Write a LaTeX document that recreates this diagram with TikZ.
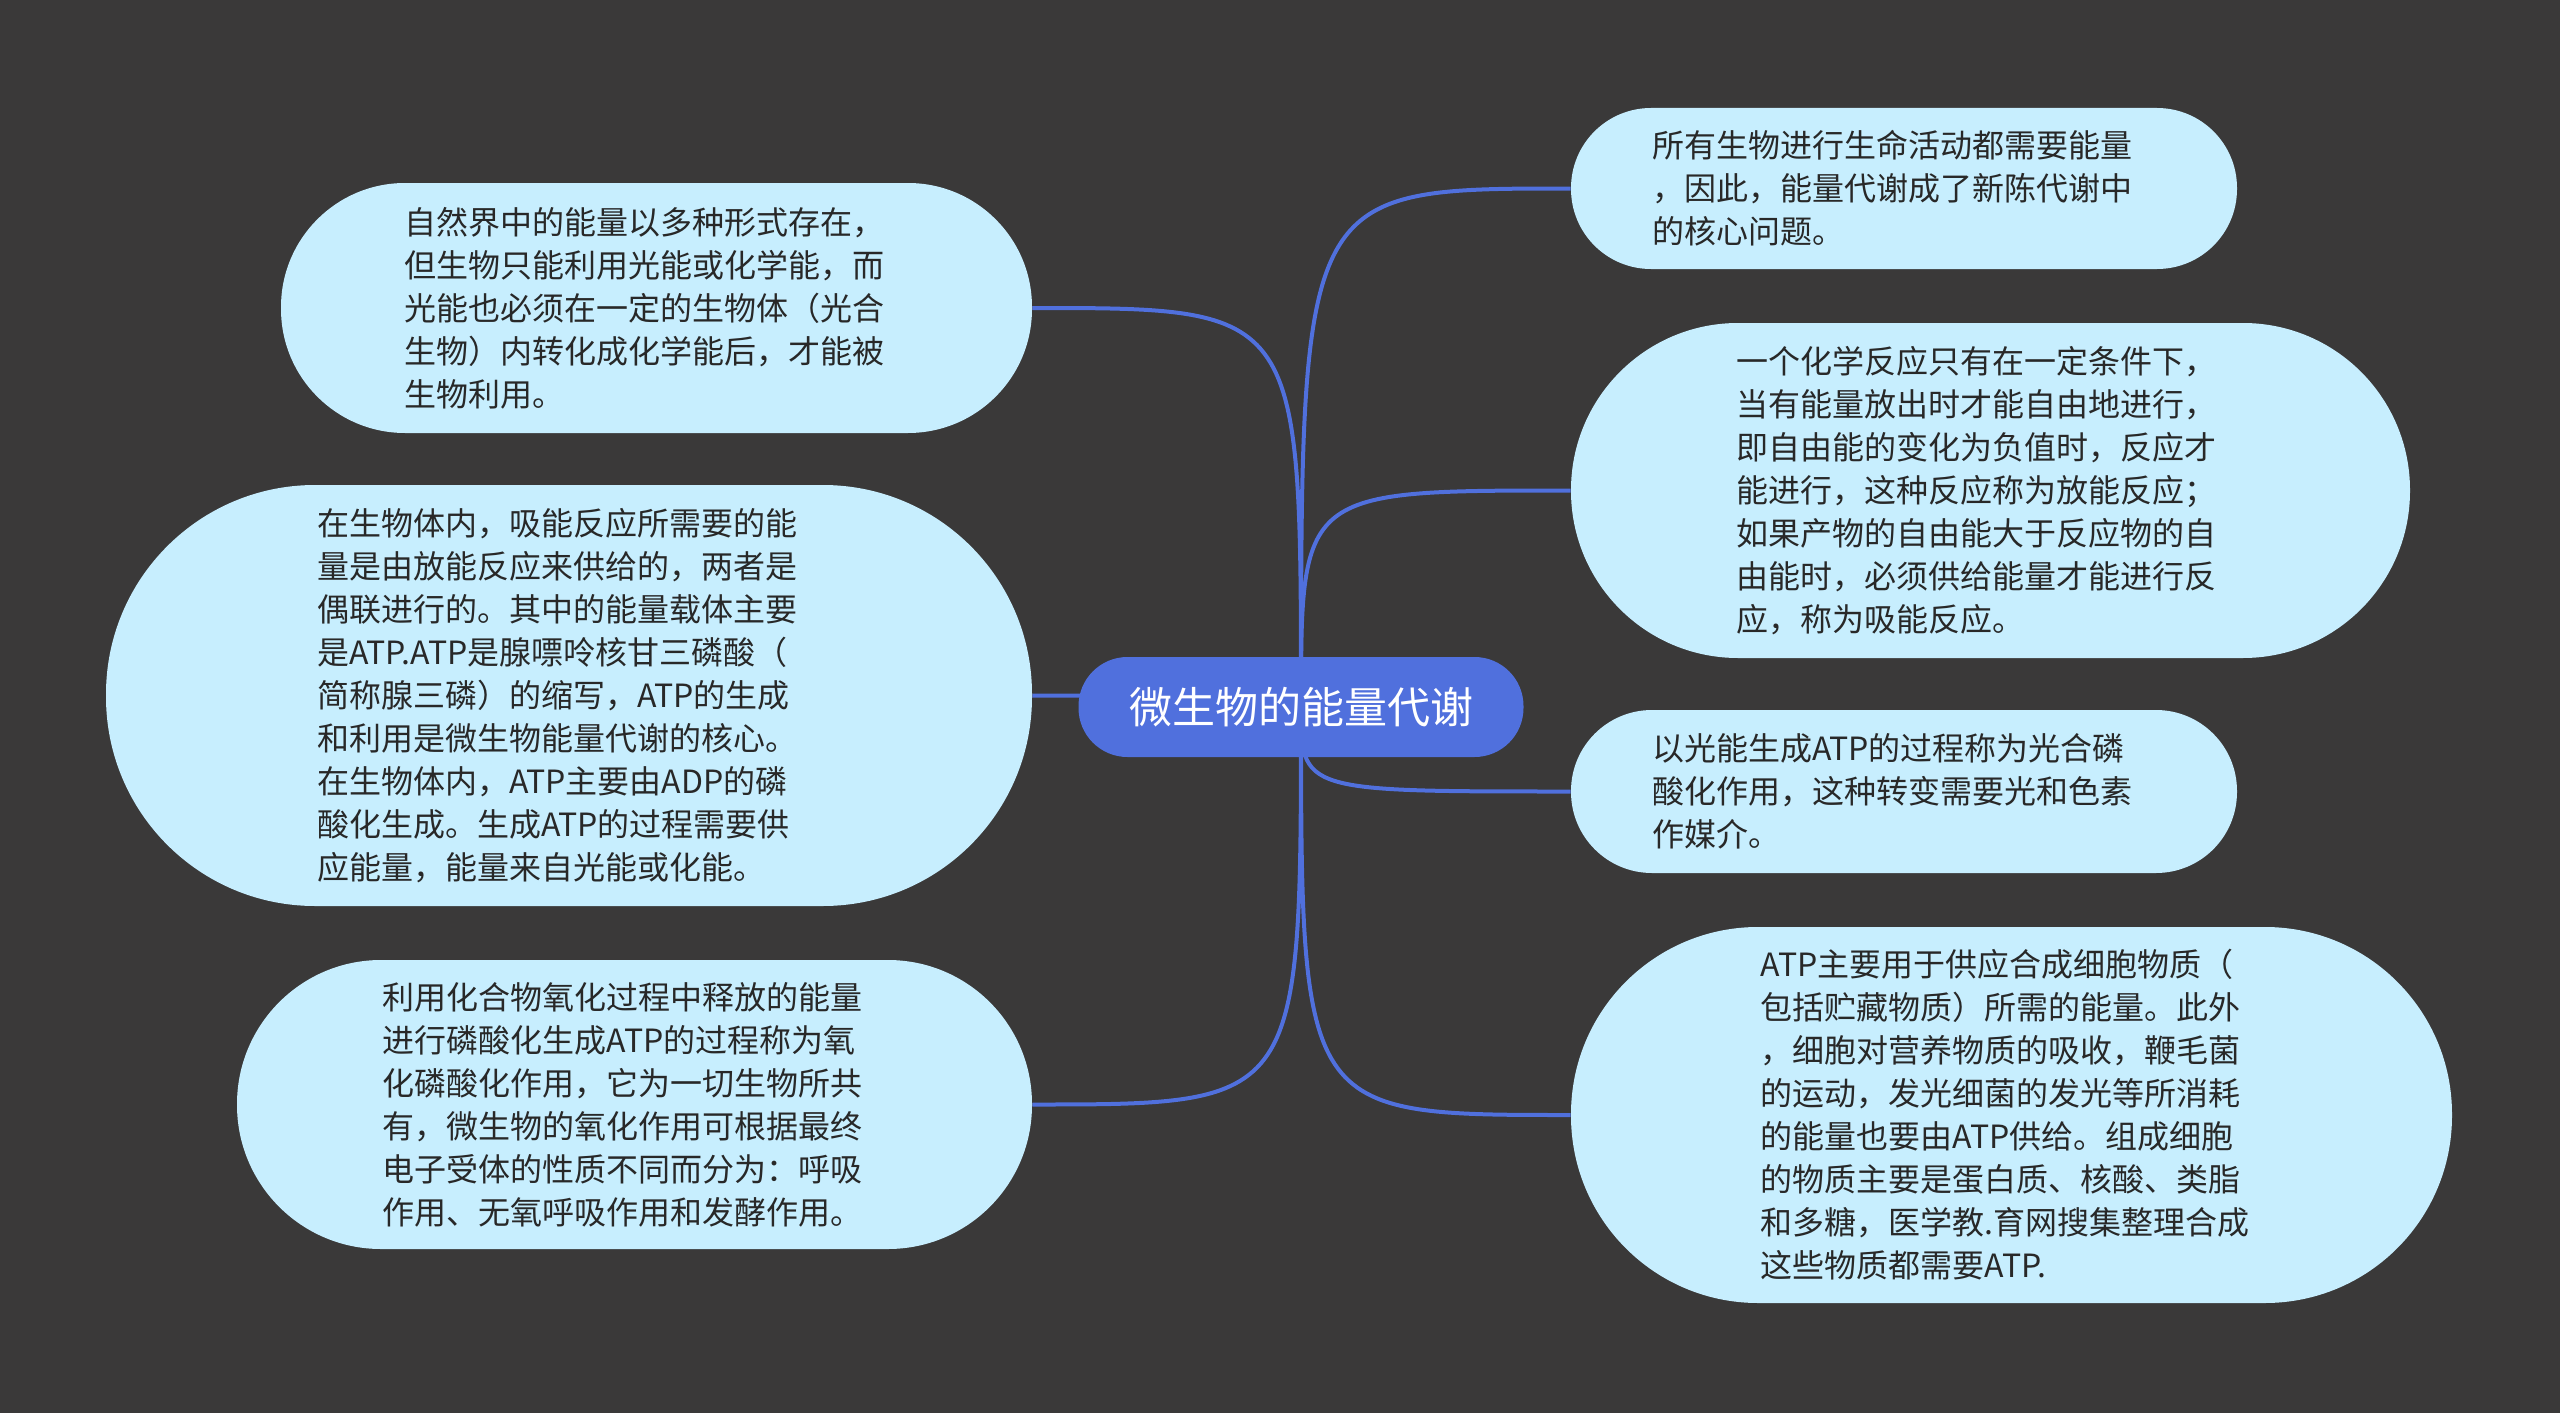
\documentclass[tikz,border=0pt]{standalone}
\usepackage{fontspec}
\setmainfont{Noto Sans CJK SC}
\usepackage{tikz}
\usetikzlibrary{calc}
\definecolor{bgdark}{RGB}{58,57,57}
\definecolor{hubblue}{RGB}{80,112,221}
\definecolor{leafcyan}{RGB}{199,238,254}
\definecolor{leaftext}{RGB}{40,40,40}
\pgfdeclarelayer{bg}
\pgfdeclarelayer{links}
\pgfsetlayers{bg,links,main}
\tikzset{every picture/.style={line width=0.75pt}}
\tikzset{
  hub/.style={fill=hubblue, text=white, rounded corners=24.5pt, minimum width=222.5pt, minimum height=50pt, inner sep=0pt, font=\fontsize{21.5}{26}\selectfont},
  leaf/.style n args={4}{fill=leafcyan, text=leaftext, align=left, text width=#4, inner sep=0pt, minimum width=#1, minimum height=#2, rounded corners=#3, font=\fontsize{16}{21.5}\selectfont},
  link/.style={draw=hubblue, line width=2pt}
}
\begin{document}
\begin{tikzpicture}[x=0.5pt,y=0.5pt,yscale=-1,xscale=1]
\useasboundingbox (0,0) rectangle (2560,1413);
\begin{pgfonlayer}{bg}
\fill [bgdark] (0,0) rectangle (2560,1413);
\end{pgfonlayer}

%Root
\node (hub) at (1301,707) [hub] {微生物的能量代谢};

%Left branches
\node (l1) at (656.5,308) [leaf={375.5pt}{125pt}{62pt}{252pt}] {自然界中的能量以多种形式存在，\\但生物只能利用光能或化学能，而\\光能也必须在一定的生物体（光合\\生物）内转化成化学能后，才能被\\生物利用。};
\node (l2) at (569,695.5) [leaf={463pt}{210.5pt}{104.5pt}{252pt}] {在生物体内，吸能反应所需要的能\\量是由放能反应来供给的，两者是\\偶联进行的。其中的能量载体主要\\是ATP.ATP是腺嘌呤核甘三磷酸（\\简称腺三磷）的缩写，ATP的生成\\和利用是微生物能量代谢的核心。\\在生物体内，ATP主要由ADP的磷\\酸化生成。生成ATP的过程需要供\\应能量，能量来自光能或化能。};
\node (l3) at (634.5,1104.5) [leaf={397.5pt}{144.5pt}{72pt}{252pt}] {利用化合物氧化过程中释放的能量\\进行磷酸化生成ATP的过程称为氧\\化磷酸化作用，它为一切生物所共\\有，微生物的氧化作用可根据最终\\电子受体的性质不同而分为：呼吸\\作用、无氧呼吸作用和发酵作用。};

%Right branches
\node (r1) at (1904,188.5) [leaf={333pt}{80.5pt}{40pt}{252pt}] {所有生物进行生命活动都需要能量\\，因此，能量代谢成了新陈代谢中\\的核心问题。};
\node (r2) at (1990.5,490.5) [leaf={419.5pt}{167.5pt}{83.5pt}{254pt}] {一个化学反应只有在一定条件下，\\当有能量放出时才能自由地进行，\\即自由能的变化为负值时，反应才\\能进行，这种反应称为放能反应；\\如果产物的自由能大于反应物的自\\由能时，必须供给能量才能进行反\\应，称为吸能反应。};
\node (r3) at (1904,791.5) [leaf={333pt}{81.5pt}{40.5pt}{252pt}] {以光能生成ATP的过程称为光合磷\\酸化作用，这种转变需要光和色素\\作媒介。};
\node (r4) at (2011.5,1115) [leaf={440.5pt}{188pt}{93.5pt}{251pt}] {ATP主要用于供应合成细胞物质（\\包括贮藏物质）所需的能量。此外\\，细胞对营养物质的吸收，鞭毛菌\\的运动，发光细菌的发光等所消耗\\的能量也要由ATP供给。组成细胞\\的物质主要是蛋白质、核酸、类脂\\和多糖，医学教.育网搜集整理合成\\这些物质都需要ATP.};

%Links
\begin{pgfonlayer}{links}
\foreach \leafname/\side in {l1/east,l2/east,l3/east,r1/west,r2/west,r3/west,r4/west}
  \draw [link] (hub.center) .. controls (hub.center |- \leafname.\side) .. (\leafname.\side);
\end{pgfonlayer}

\end{tikzpicture}
\end{document}
